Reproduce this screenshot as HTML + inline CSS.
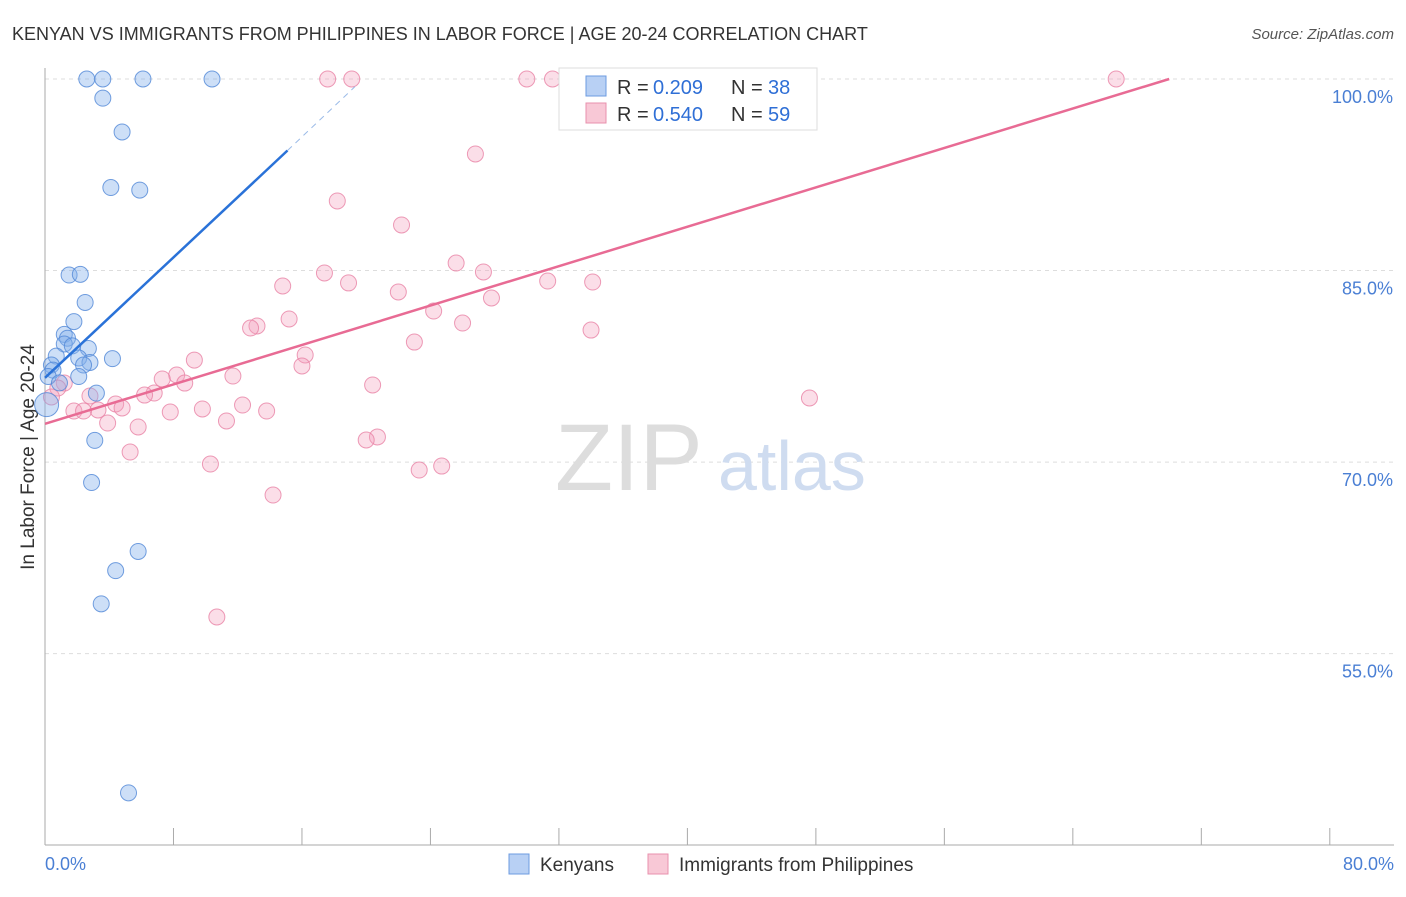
<!DOCTYPE html>
<html><head><meta charset="utf-8"><style>
body{margin:0;background:#fff;font-family:"Liberation Sans",sans-serif}
svg text{font-family:"Liberation Sans",sans-serif}
</style></head><body>
<svg width="1406" height="892">
<text x="12" y="40" font-size="18" fill="#333">KENYAN VS IMMIGRANTS FROM PHILIPPINES IN LABOR FORCE | AGE 20-24 CORRELATION CHART</text>
<text x="1394" y="39" font-size="15" fill="#555" font-style="italic" text-anchor="end">Source: ZipAtlas.com</text>
<g id="grid"></g>
<line x1="45" y1="68" x2="45" y2="845" stroke="#aaa"/>
<line x1="45" y1="845" x2="1394" y2="845" stroke="#aaa"/>
<text x="555" y="490" font-size="95" fill="#ddd" font-family="Liberation Serif">ZIP</text>
<text x="718" y="490" font-size="70" fill="#cfdcf0">atlas</text>
<text transform="translate(34,457) rotate(-90)" font-size="19" fill="#333" text-anchor="middle">In Labor Force | Age 20-24</text>
<text x="45" y="870" font-size="18" fill="#4a7fd4">0.0%</text>
<text x="1394" y="870" font-size="18" fill="#4a7fd4" text-anchor="end">80.0%</text>
<g id="pts"></g>
<g id="lines"></g>
<rect x="559" y="68" width="258" height="62" fill="#fff" stroke="#ddd"/>
<rect x="586" y="76" width="20" height="20" fill="#b8d0f4" stroke="#6d9be0"/>
<rect x="586" y="103" width="20" height="20" fill="#f8c8d6" stroke="#e891ad"/>
<g font-size="20" fill="#333">
<text x="617" y="94">R =</text><text x="653" y="94" fill="#2f6fd6">0.209</text><text x="731" y="94">N =</text><text x="768" y="94" fill="#2f6fd6">38</text></g>
<g font-size="20" fill="#333">
<text x="617" y="121">R =</text><text x="653" y="121" fill="#2f6fd6">0.540</text><text x="731" y="121">N =</text><text x="768" y="121" fill="#2f6fd6">59</text></g>
<rect x="509" y="854" width="20" height="20" fill="#b8d0f4" stroke="#6d9be0"/>
<text x="540" y="871" font-size="19" fill="#333">Kenyans</text>
<rect x="648" y="854" width="20" height="20" fill="#f8c8d6" stroke="#e891ad"/>
<text x="679" y="871" font-size="19" fill="#333">Immigrants from Philippines</text>
</svg>
<script>
const NS="http://www.w3.org/2000/svg";
const yTicks=[100,85,70,55];
const yTickLabels=["100.0%","85.0%","70.0%","55.0%"];
const xTicks=[0,8,16,24,32,40,48,56,64,72,80];
const blueX=[2.6,3.6,6.1,10.4,3.6,4.8,4.1,5.9,1.5,2.2,2.5,1.8,1.2,1.4,1.2,1.7,2.7,0.7,2.1,2.8,0.4,4.2,2.4,0.5,0.2,2.1,0.9,3.2,0.1,3.1,2.9,5.8,4.4,3.5,5.2];
const blueY=[100,100,100,100,98.5,95.85,91.5,91.3,84.65,84.7,82.5,81.0,80.0,79.7,79.25,79.1,78.9,78.3,78.15,77.8,77.6,78.1,77.6,77.2,76.7,76.7,76.2,75.4,74.5,71.7,68.4,63.0,61.5,58.9,44.1];
const pinkX=[17.6,19.1,30.0,31.6,66.7,26.8,18.2,22.2,25.6,17.4,27.3,14.8,18.9,31.3,34.1,22.0,27.8,24.2,15.2,26.0,13.2,12.8,34.0,23.0,16.2,9.3,16.0,8.2,11.7,7.3,8.7,20.4,6.8,6.2,2.8,1.2,0.8,0.4,4.4,4.8,3.3,1.8,2.4,9.8,12.3,13.8,7.8,11.3,3.9,5.8,20.7,20.0,5.3,10.3,23.3,24.7,14.2,10.7,47.6];
const pinkY=[100,100,100,100,100,94.13,90.45,88.57,85.59,84.81,84.89,83.79,84.03,84.18,84.10,83.32,82.85,81.83,81.21,80.89,80.66,80.50,80.34,79.40,78.39,77.99,77.53,76.82,76.74,76.51,76.19,76.04,75.41,75.25,75.18,76.19,75.80,75.10,74.55,74.24,74.08,74.00,74.00,74.16,74.47,74.00,73.92,73.22,73.06,72.75,71.97,71.73,70.79,69.85,69.38,69.69,67.42,57.87,75.02];
const X=v=>45+v*16.06, Y=v=>79+(100-v)*12.77;
const grid=document.getElementById('grid');
yTicks.forEach((t,i)=>{
 const l=document.createElementNS(NS,'line');
 l.setAttribute('x1',45);l.setAttribute('x2',1394);l.setAttribute('y1',Y(t));l.setAttribute('y2',Y(t));
 l.setAttribute('stroke','#ddd');l.setAttribute('stroke-dasharray','4,4');
 
 
 grid.appendChild(l);
 const tx=document.createElementNS(NS,'text');
 tx.setAttribute('x',1393);tx.setAttribute('y',Y(t)+24);tx.setAttribute('text-anchor','end');
 tx.setAttribute('font-size','18');tx.setAttribute('fill','#4a7fd4');tx.textContent=yTickLabels[i];
 
 
 grid.appendChild(tx);
});
xTicks.forEach(t=>{
 const l=document.createElementNS(NS,'line');
 l.setAttribute('x1',X(t));l.setAttribute('x2',X(t));l.setAttribute('y1',828);l.setAttribute('y2',845);
 l.setAttribute('stroke','#aaa');
 
 
 grid.appendChild(l);
});
const pts=document.getElementById('pts');
function dot(x,y,fill,stroke,name,r){
 const c=document.createElementNS(NS,'circle');
 c.setAttribute('cx',X(x));c.setAttribute('cy',Y(y));c.setAttribute('r',r||8);
 c.setAttribute('fill',fill);c.setAttribute('stroke',stroke);c.setAttribute('stroke-width','1');
 
 
 pts.appendChild(c);
}
pinkX.forEach((x,i)=>dot(x,pinkY[i],'rgba(244,160,188,0.35)','rgba(232,130,165,0.8)','point-philippines'));
blueX.forEach((x,i)=>dot(x,blueY[i],'rgba(130,175,235,0.4)','rgba(80,135,215,0.8)','point-kenyans',i==28?12:8));
const lines=document.getElementById('lines');
function ln(x1,y1,x2,y2,col,name,dash){
 const l=document.createElementNS(NS,'line');
 l.setAttribute('x1',X(x1));l.setAttribute('y1',Y(y1));l.setAttribute('x2',X(x2));l.setAttribute('y2',Y(y2));
 l.setAttribute('stroke',col);l.setAttribute('stroke-width',dash?1:2.5);
 if(dash)l.setAttribute('stroke-dasharray','6,5');
 
 
 lines.appendChild(l);
}
ln(0,76.6,15.1,94.4,'#2a72d8','trend-kenyans');
ln(15.1,94.4,19.3,99.4,'#9bbbe8','trend-kenyans-extension',true);
ln(0,73.0,70.0,100,'#e86b94','trend-philippines');
</script>
</body></html>
